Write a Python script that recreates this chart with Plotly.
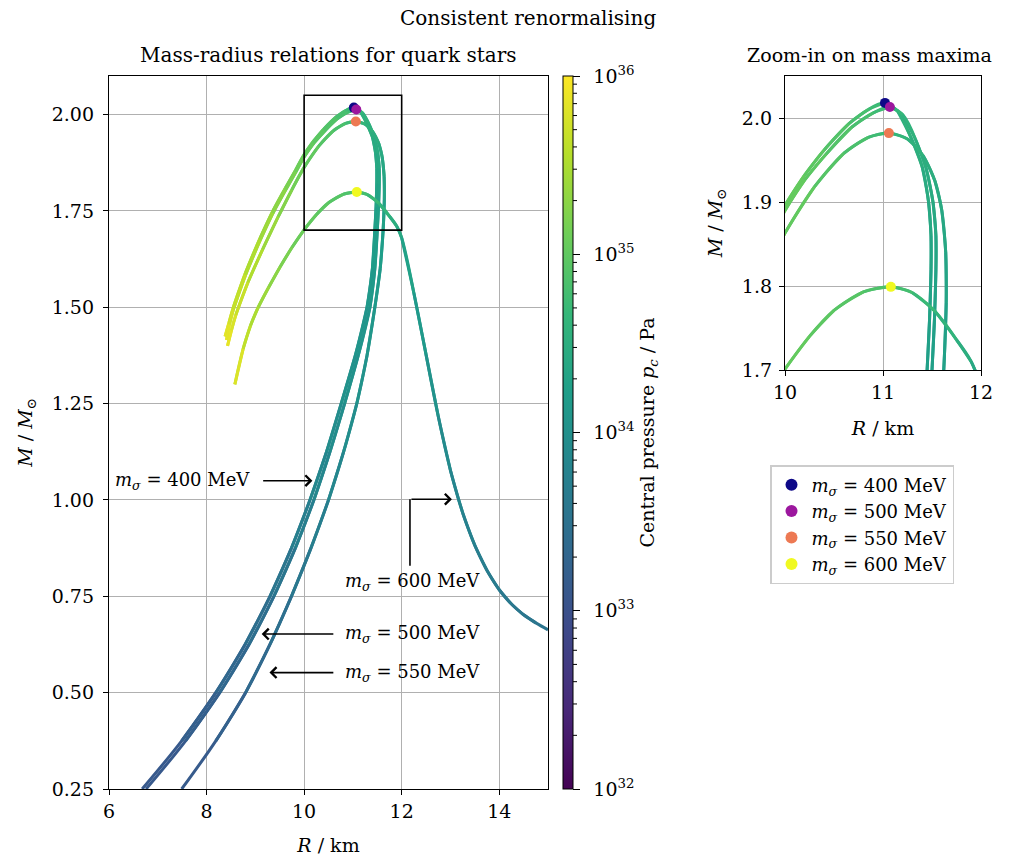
import numpy as np
import plotly.graph_objects as go
from plotly.colors import sample_colorscale

# ---------------- data ----------------
# curves ordered from low to high central pressure; P = log10(p_c / Pa)
R400 = [6.68, 7.49, 8.19, 8.79, 9.30, 9.74, 10.12, 10.46, 10.76, 11.05, 11.29, 11.40, 11.45, 11.475, 11.49,
        11.49, 11.465, 11.40, 11.28, 11.15, 11.02, 10.85, 10.65, 10.40, 10.20, 10.00, 9.83, 9.62, 9.36, 9.10,
        8.80, 8.55, 8.46, 8.38]
M400 = [0.25, 0.375, 0.5, 0.625, 0.75, 0.875, 1.0, 1.125, 1.25, 1.375, 1.5, 1.6, 1.7, 1.76, 1.82,
        1.86, 1.90, 1.942, 1.978, 2.008, 2.018, 2.010, 1.993, 1.962, 1.932, 1.896, 1.857, 1.81, 1.75, 1.68,
        1.59, 1.50, 1.46, 1.424]
P400 = [33.08, 33.17, 33.27, 33.39, 33.50, 33.64, 33.80, 33.91, 34.00, 34.06, 34.11, 34.17, 34.23, 34.28, 34.33,
        34.37, 34.42, 34.48, 34.55, 34.62, 34.70, 34.78, 34.86, 34.94, 35.00, 35.07, 35.14, 35.24, 35.36, 35.46,
        35.58, 35.70, 35.78, 35.90]

R500 = [6.76, 7.57, 8.27, 8.87, 9.38, 9.82, 10.20, 10.53, 10.83, 11.11, 11.35, 11.45, 11.50, 11.525, 11.54,
        11.54, 11.51, 11.44, 11.33, 11.20, 11.07, 10.90, 10.68, 10.42, 10.20, 10.00, 9.83, 9.62, 9.36, 9.10,
        8.80, 8.55, 8.47, 8.41]
M500 = [0.25, 0.375, 0.5, 0.625, 0.75, 0.875, 1.0, 1.125, 1.25, 1.375, 1.5, 1.6, 1.7, 1.76, 1.82,
        1.86, 1.90, 1.94, 1.975, 2.004, 2.013, 2.006, 1.989, 1.957, 1.926, 1.890, 1.851, 1.804, 1.744, 1.674,
        1.584, 1.494, 1.455, 1.415]
P500 = [33.08, 33.17, 33.27, 33.39, 33.50, 33.64, 33.80, 33.91, 34.00, 34.06, 34.11, 34.17, 34.23, 34.28, 34.33,
        34.37, 34.42, 34.48, 34.55, 34.62, 34.70, 34.78, 34.86, 34.94, 35.00, 35.07, 35.14, 35.24, 35.36, 35.46,
        35.58, 35.70, 35.78, 35.90]

R550 = [7.49, 8.19, 8.80, 9.30, 9.74, 10.14, 10.50, 10.81, 11.08, 11.29, 11.45, 11.56, 11.62, 11.645, 11.64,
        11.60, 11.53, 11.41, 11.25, 11.06, 10.85, 10.60, 10.30, 10.00, 9.75, 9.47, 9.15, 8.85, 8.60, 8.51, 8.43]
M550 = [0.25, 0.375, 0.5, 0.625, 0.75, 0.875, 1.0, 1.125, 1.25, 1.375, 1.5, 1.6, 1.7, 1.78, 1.84,
        1.89, 1.925, 1.955, 1.975, 1.982, 1.977, 1.958, 1.918, 1.863, 1.805, 1.735, 1.65, 1.565, 1.48, 1.44, 1.40]
P550 = [33.10, 33.19, 33.30, 33.42, 33.53, 33.67, 33.80, 33.92, 34.02, 34.08, 34.13, 34.19, 34.25, 34.31, 34.36,
        34.41, 34.46, 34.53, 34.61, 34.70, 34.80, 34.88, 34.97, 35.07, 35.18, 35.32, 35.46, 35.60, 35.74, 35.82,
        35.90]

R600 = [15.00, 14.75, 14.50, 14.25, 14.00, 13.75, 13.50, 13.25, 13.00, 12.75, 12.50, 12.25, 12.00, 11.90, 11.75,
        11.53, 11.30, 11.08, 10.80, 10.50, 10.25, 10.00, 9.75, 9.51, 9.28, 9.06, 8.90, 8.75, 8.58]
M600 = [0.663, 0.681, 0.702, 0.730, 0.767, 0.817, 0.882, 0.967, 1.077, 1.217, 1.377, 1.537, 1.680, 1.710, 1.736,
        1.770, 1.792, 1.799, 1.793, 1.771, 1.740, 1.701, 1.655, 1.605, 1.553, 1.500, 1.452, 1.392, 1.300]
P600 = [33.52, 33.55, 33.58, 33.61, 33.65, 33.69, 33.74, 33.79, 33.86, 33.98, 34.10, 34.22, 34.36, 34.45, 34.56,
        34.66, 34.75, 34.84, 34.90, 34.96, 35.00, 35.05, 35.14, 35.25, 35.35, 35.45, 35.55, 35.68, 35.90]

m_sigma = [400, 500, 550, 600]
R_max = [11.02, 11.07, 11.06, 11.08]
M_max = [2.018, 2.013, 1.982, 1.799]
max_colors = ["#0d0887", "#9c179e", "#ed7953", "#f0f921"]

logp_min, logp_max = 32, 36
cbar_ticks = [32, 33, 34, 35, 36]

curves = [(R400, M400, P400), (R500, M500, P500), (R550, M550, P550), (R600, M600, P600)]

# ---------------- figure ----------------
FONT = "DejaVu Serif, Liberation Serif, serif"
FS = 19
FT = 20
W, H = 1020, 861
ML, MR, MT, MB = 109, 39, 76, 72
PW, PH = W - ML - MR, H - MT - MB


def px_x(p):
    return (p - ML) / PW


def px_y(p):
    return (H - MB - p) / PH


main_dom_x = [0, px_x(548)]
main_dom_y = [0, 1]
zoom_dom_x = [px_x(785), 1]
zoom_dom_y = [px_y(370), 1]

fig = go.Figure()


def color_of(p):
    t = (p - logp_min) / (logp_max - logp_min)
    t = min(max(t, 0), 1)
    return sample_colorscale("Viridis", [t])[0]


for xa, ya in [("x", "y"), ("x2", "y2")]:
    for R, M, P in curves:
        n = len(R)
        for i in range(n - 1):
            j = min(i + 2, n - 1)
            c = color_of(0.5 * (P[i] + P[i + 1]))
            fig.add_trace(go.Scatter(x=R[i:j + 1], y=M[i:j + 1], mode="lines",
                                     line=dict(color=c, width=3, shape="spline"), showlegend=False,
                                     hoverinfo="skip", xaxis=xa, yaxis=ya))
    for k in range(len(m_sigma)):
        fig.add_trace(go.Scatter(
            x=[R_max[k]], y=[M_max[k]], mode="markers",
            marker=dict(color=max_colors[k], size=10),
            name=f"<i>m</i><sub><i>σ</i></sub> = {m_sigma[k]} MeV",
            showlegend=(xa == "x"), xaxis=xa, yaxis=ya))

# colorbar carrier
fig.add_trace(go.Scatter(
    x=[6], y=[-10], mode="markers", showlegend=False, hoverinfo="skip",
    marker=dict(color=[33], colorscale="Viridis", cmin=logp_min, cmax=logp_max, size=1,
                showscale=True,
                colorbar=dict(
                    thickness=10, thicknessmode="pixels",
                    len=1, lenmode="fraction",
                    x=px_x(563), xanchor="left", y=0.5, yanchor="middle",
                    xpad=0, ypad=0, outlinewidth=1, outlinecolor="black",
                    tickvals=cbar_ticks, ticktext=[f"\u200210<sup>{v}</sup>" for v in cbar_ticks],
                    ticks="outside", ticklen=7, tickcolor="black", tickwidth=1,
                    tickfont=dict(family=FONT, size=FS, color="black"),
                    title=dict(text="Central pressure <i>p</i><sub><i>c</i></sub> / Pa", side="right",
                               font=dict(family=FONT, size=FS, color="black")),
                ))))

axis_common = dict(showgrid=True, gridcolor="#b0b0b0", gridwidth=1, showline=True, linecolor="black",
                   linewidth=1.3, mirror=True, ticks="outside", ticklen=5, tickcolor="black",
                   zeroline=False, automargin=False, tickfont=dict(family=FONT, size=FS, color="black"))

fig.update_layout(
    width=W, height=H, margin=dict(l=ML, r=MR, t=MT, b=MB, autoexpand=False),
    paper_bgcolor="white", plot_bgcolor="white",
    font=dict(family=FONT, size=FS, color="black"),
    xaxis=dict(domain=main_dom_x, range=[6, 15], tickvals=[6, 8, 10, 12, 14], anchor="y",
               title=dict(text="<i>R</i> / km", standoff=17, font=dict(family=FONT, size=FS)), **axis_common),
    yaxis=dict(domain=main_dom_y, range=[0.25, 2.10], tickvals=[0.25, 0.5, 0.75, 1.0, 1.25, 1.5, 1.75, 2.0],
               tickformat=".2f", anchor="x", ticklabelstandoff=5,
               title=dict(text="<i>M</i> / <i>M</i><sub>⊙</sub>", standoff=14, font=dict(family=FONT, size=FS)),
               **axis_common),
    xaxis2=dict(domain=zoom_dom_x, range=[10, 12], tickvals=[10, 11, 12], anchor="y2",
                title=dict(text="<i>R</i> / km", standoff=19, font=dict(family=FONT, size=FS)), **axis_common),
    yaxis2=dict(domain=zoom_dom_y, range=[1.7, 2.05], tickvals=[1.7, 1.8, 1.9, 2.0], tickformat=".1f",
                anchor="x2", ticklabelstandoff=3,
                title=dict(text="<i>M</i> / <i>M</i><sub>⊙</sub>", standoff=14, font=dict(family=FONT, size=FS)),
                **axis_common),
    legend=dict(x=px_x(770), y=px_y(465), xanchor="left", yanchor="top", bgcolor="white",
                bordercolor="#cccccc", borderwidth=1.5, font=dict(family=FONT, size=18, color="black"),
                tracegroupgap=0, itemsizing="constant"),
)

# zoom rectangle
fig.add_shape(type="rect", xref="x", yref="y", x0=10, x1=12, y0=1.7, y1=2.05,
              line=dict(color="black", width=1.6))

# colorbar minor ticks (log)
for d in range(logp_min, logp_max):
    for k in range(2, 10):
        v = d + np.log10(k)
        yp = (v - logp_min) / (logp_max - logp_min)
        fig.add_shape(type="line", xref="paper", yref="paper", x0=px_x(573), x1=px_x(577), y0=yp, y1=yp,
                      line=dict(color="black", width=1))

# titles
fig.add_annotation(text="Consistent renormalising", xref="paper", yref="paper", x=px_x(528), y=px_y(18),
                   showarrow=False, font=dict(family=FONT, size=FT), xanchor="center", yanchor="middle")
fig.add_annotation(text="Mass-radius relations for quark stars", xref="paper", yref="paper",
                   x=(main_dom_x[0] + main_dom_x[1]) / 2, y=px_y(55), showarrow=False,
                   font=dict(family=FONT, size=FT), xanchor="center", yanchor="middle")
fig.add_annotation(text="Zoom-in on mass maxima", xref="paper", yref="paper", x=px_x(869), y=px_y(55),
                   showarrow=False, font=dict(family=FONT, size=FS), xanchor="center", yanchor="middle")

# labels with arrows
lab = lambda m: f"<i>m</i><sub><i>σ</i></sub> = {m} MeV"
ann_font = dict(family=FONT, size=18, color="black")
fig.add_annotation(text=lab(400), xref="x", yref="y", x=8.93, y=1.05, xanchor="right", yanchor="middle",
                   showarrow=False, font=ann_font)
fig.add_annotation(text=lab(500), xref="x", yref="y", x=10.80, y=0.652, xanchor="left", yanchor="middle",
                   showarrow=False, font=ann_font)
fig.add_annotation(text=lab(550), xref="x", yref="y", x=10.80, y=0.552, xanchor="left", yanchor="middle",
                   showarrow=False, font=ann_font)
fig.add_annotation(text=lab(600), xref="x", yref="y", x=10.80, y=0.788, xanchor="left", yanchor="middle",
                   showarrow=False, font=ann_font)

arrows = [((9.13, 1.05), (10.17, 1.05)), ((10.63, 0.652), (9.13, 0.652)), ((10.63, 0.552), (9.29, 0.552)),
          ((12.17, 1.002), (13.03, 1.002))]
for (ax, ay), (hx, hy) in arrows:
    fig.add_annotation(x=hx, y=hy, ax=ax, ay=ay, xref="x", yref="y", axref="x", ayref="y", text="",
                       showarrow=True, arrowhead=4, arrowsize=1.3, arrowwidth=1.6, arrowcolor="black",
                       standoff=0, startstandoff=0)
fig.add_shape(type="line", xref="x", yref="y", x0=12.17, x1=12.17, y0=0.829, y1=1.002,
              line=dict(color="black", width=1.6))

fig.write_html("out.html")
